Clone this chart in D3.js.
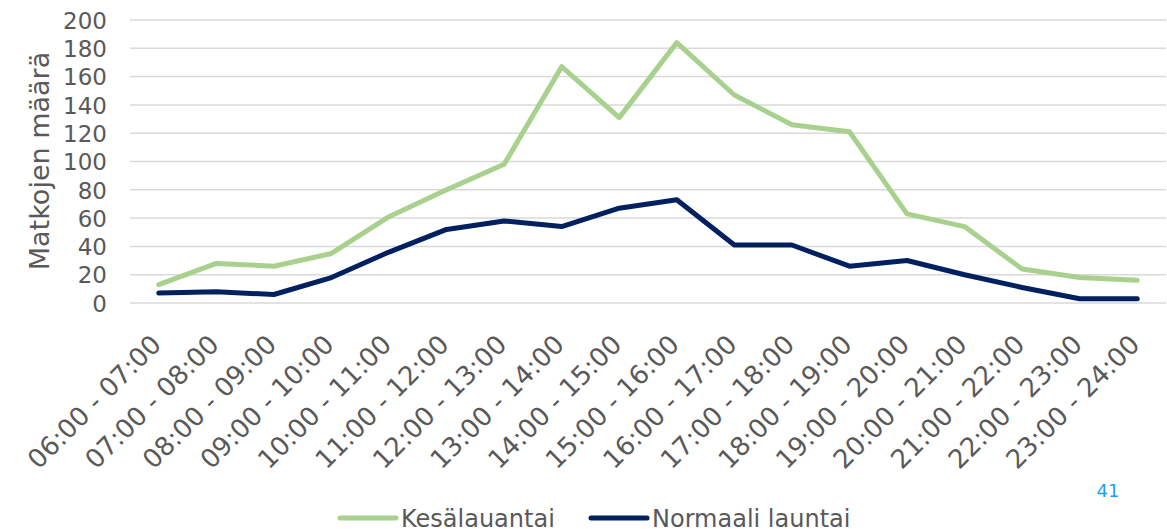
<!DOCTYPE html>
<html>
<head>
<meta charset="utf-8">
<script src="https://cdn.jsdelivr.net/npm/d3@7"></script>
<style>
  html, body { margin: 0; padding: 0; background: #fff; }
  svg { display: block; font-family: "DejaVu Sans", Verdana, sans-serif; }
</style>
</head>
<body>
<svg id="chart" width="1167" height="529"></svg>
<script>
// Hourly trip counts: summer Saturday vs. normal Saturday
const hours = [
  "06:00 - 07:00", "07:00 - 08:00", "08:00 - 09:00", "09:00 - 10:00",
  "10:00 - 11:00", "11:00 - 12:00", "12:00 - 13:00", "13:00 - 14:00",
  "14:00 - 15:00", "15:00 - 16:00", "16:00 - 17:00", "17:00 - 18:00",
  "18:00 - 19:00", "19:00 - 20:00", "20:00 - 21:00", "21:00 - 22:00",
  "22:00 - 23:00", "23:00 - 24:00"
];
const kesalauantai = [13, 28, 26, 35, 61, 80, 98, 167, 131, 184, 147, 126, 121, 63, 54, 24, 18, 16];
const normaaliLauantai = [7, 8, 6, 18, 36, 52, 58, 54, 67, 73, 41, 41, 26, 30, 20, 11, 3, 3];
const yTicks = [0, 20, 40, 60, 80, 100, 120, 140, 160, 180, 200];
const seriesNames = ["Kesälauantai", "Normaali launtai"];
const seriesColors = ["#a9d18e", "#002060"];

const svg = d3.select("#chart");
const textColor = "#595959";

const x = d3.scalePoint().domain(hours).range([130, 1166]).padding(0.5);
const y = d3.scaleLinear().domain([0, 200]).range([303, 20]);

// Horizontal gridlines
svg.append("g")
  .selectAll("line")
  .data(yTicks)
  .join("line")
  .attr("x1", 130).attr("x2", 1166)
  .attr("y1", d => y(d)).attr("y2", d => y(d))
  .attr("stroke", "#d9d9d9")
  .attr("stroke-width", 1.5);

// Y axis tick labels
const yAxis = svg.append("g")
  .attr("transform", "translate(107,0)")
  .call(d3.axisLeft(y).tickValues(yTicks).tickSize(0).tickPadding(0));
yAxis.select(".domain").remove();
yAxis.selectAll("text")
  .attr("fill", textColor)
  .attr("font-size", 23)
  .attr("font-family", "DejaVu Sans, Verdana, sans-serif")
  .attr("dy", "0.36em");

// Y axis title
svg.append("text")
  .attr("transform", "translate(49,161) rotate(-90)")
  .attr("text-anchor", "middle")
  .attr("fill", textColor)
  .attr("font-size", 27)
  .text("Matkojen määrä");

// X axis labels, rotated
const xAxis = svg.append("g")
  .attr("transform", "translate(0,0)")
  .call(d3.axisBottom(x).tickSize(0).tickPadding(0));
xAxis.select(".domain").remove();
xAxis.selectAll(".tick").attr("transform", null);
xAxis.selectAll(".tick text")
  .attr("fill", textColor)
  .attr("font-size", 26)
  .attr("font-family", "DejaVu Sans, Verdana, sans-serif")
  .attr("text-anchor", "end")
  .attr("y", null).attr("dy", null)
  .attr("transform", d => `translate(${x(d) + 4},346) rotate(-45)`);

// Lines
const line = d3.line()
  .x((d, i) => x(hours[i]))
  .y(d => y(d));

[kesalauantai, normaaliLauantai].forEach((vals, k) => {
  svg.append("path")
    .datum(vals)
    .attr("d", line)
    .attr("fill", "none")
    .attr("stroke", seriesColors[k])
    .attr("stroke-width", 5)
    .attr("stroke-linejoin", "round")
    .attr("stroke-linecap", "round");
});

// Legend
const legendX = [340, 591];
const legend = svg.append("g");
seriesNames.forEach((name, k) => {
  const g = legend.append("g").attr("transform", `translate(${legendX[k]},518)`);
  g.append("line")
    .attr("x1", 0).attr("x2", 56)
    .attr("y1", 0).attr("y2", 0)
    .attr("stroke", seriesColors[k])
    .attr("stroke-width", 5)
    .attr("stroke-linecap", "round");
  g.append("text")
    .attr("x", 61)
    .attr("y", 0)
    .attr("dy", "0.36em")
    .attr("fill", textColor)
    .attr("font-size", 24)
    .text(name);
});

// Page number
svg.append("text")
  .attr("x", 1108)
  .attr("y", 497)
  .attr("text-anchor", "middle")
  .attr("fill", "#1ea0f0")
  .attr("font-size", 18)
  .text("41");
</script>
</body>
</html>
